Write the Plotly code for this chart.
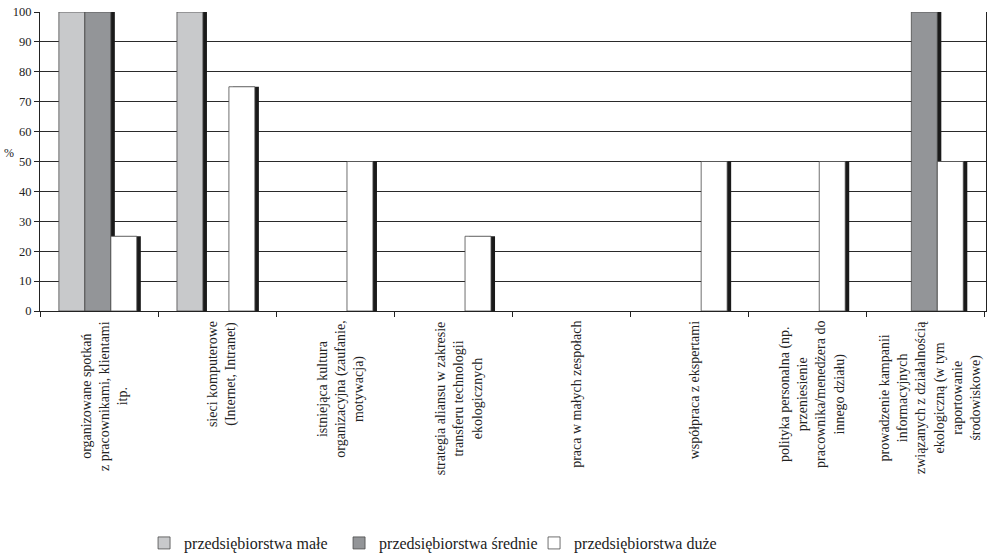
import plotly.graph_objects as go

# Categories (line breaks as printed under the axis)
categories = [
    "organizowane spotkań<br>z pracownikami, klientami<br>itp.",
    "sieci komputerowe<br>(Internet, Intranet)",
    "istniejąca kultura<br>organizacyjna (zaufanie,<br>motywacja)",
    "strategia aliansu w zakresie<br>transferu technologii<br>ekologicznych",
    "praca w małych zespołach",
    "współpraca z ekspertami",
    "polityka personalna (np.<br>przeniesienie<br>pracownika/menedżera do<br>innego działu)",
    "prowadzenie kampanii<br>informacyjnych<br>związanych z działalnością<br>ekologiczną (w tym<br>raportowanie<br>środowiskowe)",
]

series_names = ["przedsiębiorstwa małe", "przedsiębiorstwa średnie", "przedsiębiorstwa duże"]
small_values = [100, 100, 0, 0, 0, 0, 0, 0]
medium_values = [100, 0, 0, 0, 0, 0, 0, 100]
large_values = [25, 75, 50, 25, 0, 50, 50, 50]

y_ticks = [0, 10, 20, 30, 40, 50, 60, 70, 80, 90, 100]

serif = "Liberation Serif"
colors = ["#c8c9cb", "#939598", "#ffffff"]
offsets = [-0.34, -0.12, 0.10]
bar_width = 0.22
shadow_shift = 0.034

fig = go.Figure()
for name, vals, col, off in zip(series_names, [small_values, medium_values, large_values], colors, offsets):
    shown = [v if v else None for v in vals]  # empty cells: no bar drawn
    # drop shadow on the right side of each bar
    fig.add_trace(go.Bar(
        x=categories, y=shown, width=bar_width, offset=off + shadow_shift,
        marker=dict(color="#1a1a1a", line=dict(width=0)),
        showlegend=False, hoverinfo="skip",
    ))
    fig.add_trace(go.Bar(
        x=categories, y=shown, width=bar_width, offset=off, name=name,
        marker=dict(color=col, line=dict(color="#4a4a4a", width=0.8)),
    ))

# Rotated, centred multi-line category labels
for cat in categories:
    fig.add_annotation(
        x=cat, y=0, xref="x", yref="y", text=cat, showarrow=False,
        textangle=-90, align="center", xanchor="center", yanchor="top",
        yshift=-8, xshift=5,
        font=dict(family=serif, size=14, color="#222"),
    )

fig.add_annotation(
    x=0, y=53, xref="paper", yref="y", text="%", showarrow=False,
    xanchor="right", xshift=-24, font=dict(family=serif, size=12, color="#222"),
)

fig.update_layout(
    width=987, height=560,
    margin=dict(l=40, r=1, t=12, b=249, autoexpand=False),
    barmode="overlay",
    plot_bgcolor="white", paper_bgcolor="white",
    font=dict(family=serif, color="#222"),
    legend=dict(
        orientation="h", x=0.110, xanchor="left", y=-0.776, yanchor="middle",
        font=dict(family=serif, size=16, color="#222"),
        entrywidth=150, traceorder="normal",
    ),
)
fig.update_xaxes(
    type="category", showticklabels=False, tickson="boundaries",
    ticks="outside", ticklen=5, tickcolor="#222",
    showline=True, linecolor="#222", linewidth=1.2, showgrid=False,
)
fig.update_yaxes(
    range=[0, 100], tickvals=y_ticks, ticks="outside", ticklen=5, tickcolor="#222",
    showline=True, linecolor="#222", linewidth=1.2, mirror=True,
    showgrid=True, gridcolor="#2a2a2a", gridwidth=1, zeroline=False,
    tickfont=dict(family=serif, size=12.5, color="#222"),
)

fig.write_html("out.html")
